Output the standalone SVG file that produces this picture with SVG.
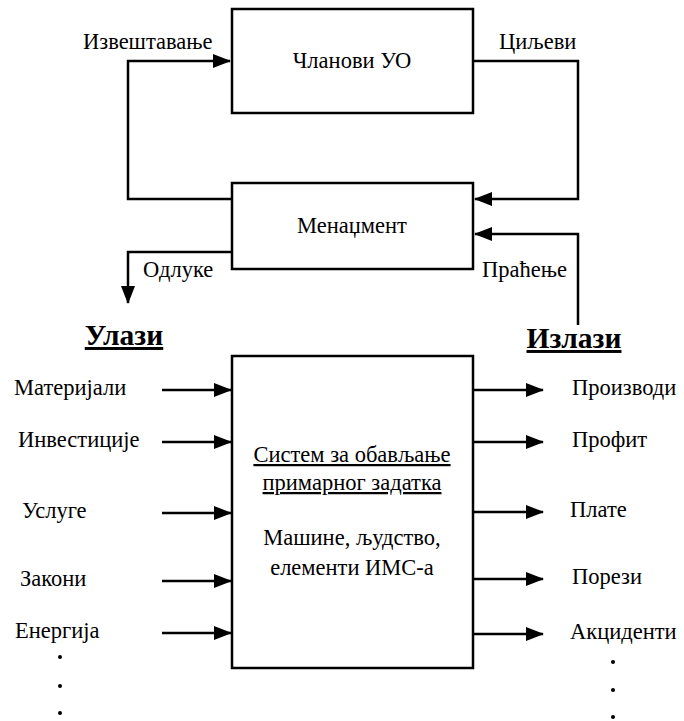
<svg xmlns="http://www.w3.org/2000/svg" width="684" height="721" viewBox="0 0 684 721">
  <style>
    .box { fill: #fff; stroke: #000; stroke-width: 2.5; }
    .ln { fill: none; stroke: #000; stroke-width: 2.5; }
    text { font-family: "Liberation Serif", "Times New Roman", serif; font-size: 22.5px; fill: #000; }
    .c { text-anchor: middle; }
    .hd { font-size: 29.5px; font-weight: bold; text-decoration: underline; }
    .u { text-decoration: underline; }
  </style>
  <defs>
    <marker id="arr" markerUnits="userSpaceOnUse" markerWidth="18" markerHeight="14" refX="17" refY="7" orient="auto">
      <path d="M0,0 L18,7 L0,14 Z" fill="#000"/>
    </marker>
  </defs>
  <rect width="684" height="721" fill="#fff"/>

  <g id="connectors">
    <!-- reporting: management -> members -->
    <polyline class="ln" points="232,199 128,199 128,61 230,61" marker-end="url(#arr)"/>
    <!-- goals: members -> management -->
    <polyline class="ln" points="473,61 578,61 578,199 475,199" marker-end="url(#arr)"/>
    <!-- monitoring: outputs -> management -->
    <polyline class="ln" points="578,325 578,234 475,234" marker-end="url(#arr)"/>
    <!-- decisions -->
    <polyline class="ln" points="232,252 128,252 128,303" marker-end="url(#arr)"/>
    <!-- inputs -->
    <line class="ln" x1="162" y1="390" x2="231" y2="390" marker-end="url(#arr)"/>
    <line class="ln" x1="162" y1="442" x2="231" y2="442" marker-end="url(#arr)"/>
    <line class="ln" x1="162" y1="513" x2="231" y2="513" marker-end="url(#arr)"/>
    <line class="ln" x1="162" y1="581" x2="231" y2="581" marker-end="url(#arr)"/>
    <line class="ln" x1="162" y1="633" x2="231" y2="633" marker-end="url(#arr)"/>
    <!-- outputs -->
    <line class="ln" x1="473" y1="390" x2="543" y2="390" marker-end="url(#arr)"/>
    <line class="ln" x1="473" y1="442" x2="543" y2="442" marker-end="url(#arr)"/>
    <line class="ln" x1="473" y1="512" x2="543" y2="512" marker-end="url(#arr)"/>
    <line class="ln" x1="473" y1="579" x2="543" y2="579" marker-end="url(#arr)"/>
    <line class="ln" x1="473" y1="634" x2="543" y2="634" marker-end="url(#arr)"/>
  </g>

  <g id="members">
    <rect class="box" x="232" y="9" width="241" height="104"/>
    <text class="c" x="352" y="68">Чланови УО</text>
  </g>

  <g id="management">
    <rect class="box" x="232" y="183" width="241" height="86"/>
    <text class="c" x="352" y="233">Менаџмент</text>
  </g>

  <g id="system">
    <rect class="box" x="232" y="356" width="241" height="312"/>
    <text class="c u" x="352" y="462">Систем за обављање</text>
    <text class="c u" x="352" y="490">примарног задатка</text>
    <text class="c" x="352" y="545">Машине, људство,</text>
    <text class="c" x="352" y="575">елементи ИМС-а</text>
  </g>

  <g id="labels">
    <text x="83" y="49">Извештавање</text>
    <text x="499" y="49">Циљеви</text>
    <text x="143" y="277">Одлуке</text>
    <text x="482" y="277">Праћење</text>
    <text class="hd c" x="124" y="345">Улази</text>
    <text class="hd c" x="574" y="348">Излази</text>
  </g>

  <g id="inputs">
    <text x="14" y="395">Материјали</text>
    <text x="18" y="447">Инвестиције</text>
    <text x="22" y="518">Услуге</text>
    <text x="20" y="586">Закони</text>
    <text x="15" y="638">Енергија</text>
    <circle cx="60" cy="657" r="2"/>
    <circle cx="60" cy="686" r="2"/>
    <circle cx="60" cy="713" r="2"/>
  </g>

  <g id="outputs">
    <text x="572" y="395">Производи</text>
    <text x="572" y="447">Профит</text>
    <text x="570" y="517">Плате</text>
    <text x="572" y="584">Порези</text>
    <text x="570" y="639">Акциденти</text>
    <circle cx="613" cy="662" r="2"/>
    <circle cx="613" cy="690" r="2"/>
    <circle cx="613" cy="717" r="2"/>
  </g>
</svg>
